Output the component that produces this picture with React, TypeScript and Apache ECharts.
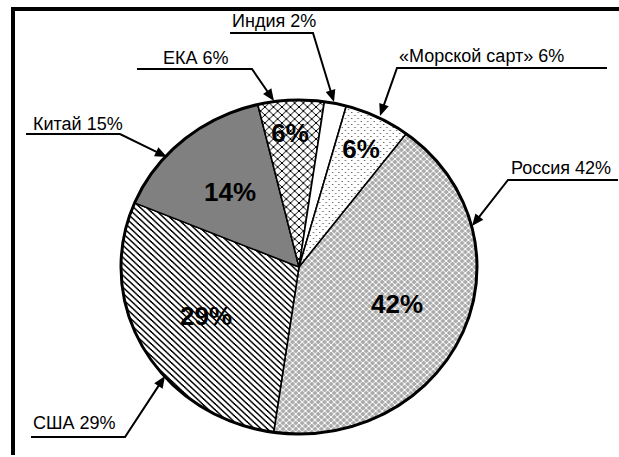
import React, { useEffect, useRef } from "react";
import * as echarts from "echarts";

const categories = ["Россия", "США", "Китай", "ЕКА", "Индия", "«Морской сарт»"];
const shares = [42, 29, 15, 6, 2, 6];
const insideLabels = ["42%", "29%", "14%", "6%", "", "6%"];

const CX = 299;
const CY = 267;
const RX = 178;
const RY = 167;
const START_DEG = 37; // clockwise from 12 o'clock
const FONT = "'Liberation Sans', Arial, sans-serif";

// annotation layout (label anchor, underline, arrow tip) per category
const outerLayout = [
  { tx: 511, ty: 168, p0: [618, 180], p1: [508, 180], tip: [472, 226] },
  { tx: 33, ty: 423, p0: [31, 437], p1: [125, 437], tip: [165, 376] },
  { tx: 33, ty: 124, p0: [26, 134], p1: [120, 134], tip: [167, 157] },
  { tx: 163, ty: 58, p0: [137, 69], p1: [252, 69], tip: [274, 101] },
  { tx: 232, ty: 21, p0: [230, 33], p1: [313, 33], tip: [334, 102] },
  { tx: 399, ty: 56, p0: [607, 68], p1: [397, 68], tip: [380, 116] },
];
const insideLayout = [
  [397, 304],
  [206, 316],
  [230, 192],
  [290, 133],
  [0, 0],
  [361, 149],
];

function tile(size: number, bg: string, fg: string, test: (x: number, y: number) => boolean) {
  const c = document.createElement("canvas");
  c.width = size;
  c.height = size;
  const ctx = c.getContext("2d")!;
  ctx.fillStyle = bg;
  ctx.fillRect(0, 0, size, size);
  ctx.fillStyle = fg;
  for (let y = 0; y < size; y++)
    for (let x = 0; x < size; x++) if (test(x, y)) ctx.fillRect(x, y, 1, 1);
  return { image: c, repeat: "repeat", imageWidth: size, imageHeight: size } as any;
}

export default function App() {
  const ref = useRef<HTMLDivElement>(null);
  useEffect(() => {
    if (!ref.current) return;
    const chart = echarts.init(ref.current, null, { renderer: "svg" });

    const fills = [
      tile(6, "#ababab", "#ffffff", (x, y) => x === y || x + y === 5),
      tile(6, "#ffffff", "#000000", (x, y) => (((x - y) % 6) + 6) % 6 < 2),
      "#808080",
      tile(8, "#ffffff", "#000000", (x, y) => x === y || x + y === 7),
      "#ffffff",
      tile(6, "#ffffff", "#333333", (x, y) => (x === 1 && y === 1) || (x === 4 && y === 4)),
    ];

    const total = shares.reduce((a, b) => a + b, 0);
    const cum: number[] = [];
    shares.reduce((acc, v, i) => {
      cum[i] = acc;
      return acc + v;
    }, 0);

    const graphics: any[] = [
      { type: "line", z: 100, shape: { x1: 11, y1: 9, x2: 619, y2: 9 }, style: { stroke: "#000", lineWidth: 4 } },
      { type: "line", z: 100, shape: { x1: 13, y1: 7, x2: 13, y2: 455 }, style: { stroke: "#000", lineWidth: 4 } },
      {
        type: "ellipse",
        z: 50,
        silent: true,
        shape: { cx: CX, cy: CY, rx: RX, ry: RY },
        style: { fill: "none", stroke: "#000", lineWidth: 3 },
      },
    ];

    categories.forEach((name, i) => {
      const L = outerLayout[i];
      const dx = L.tip[0] - L.p1[0];
      const dy = L.tip[1] - L.p1[1];
      const len = Math.hypot(dx, dy);
      const ux = dx / len;
      const uy = dy / len;
      const bx = L.tip[0] - ux * 12;
      const by = L.tip[1] - uy * 12;
      const nx = -uy * 5;
      const ny = ux * 5;
      graphics.push({
        type: "polyline",
        z: 100,
        shape: { points: [L.p0, L.p1, [bx + ux * 2, by + uy * 2]] },
        style: { stroke: "#000", lineWidth: 2, fill: null },
      });
      graphics.push({
        type: "polygon",
        z: 100,
        shape: { points: [L.tip, [bx + nx, by + ny], [bx - nx, by - ny]] },
        style: { fill: "#000" },
      });
      graphics.push({
        type: "text",
        z: 100,
        x: L.tx,
        y: L.ty,
        style: {
          text: `${name} ${shares[i]}%`,
          font: `18px ${FONT}`,
          fill: "#000",
          textAlign: "left",
          textVerticalAlign: "middle",
        },
      });
      if (insideLabels[i]) {
        graphics.push({
          type: "text",
          z: 100,
          x: insideLayout[i][0],
          y: insideLayout[i][1],
          style: {
            text: insideLabels[i],
            font: `bold 26px ${FONT}`,
            fill: "#000",
            textAlign: "center",
            textVerticalAlign: "middle",
          },
        });
      }
    });

    chart.setOption({
      animation: false,
      backgroundColor: "#ffffff",
      series: [
        {
          type: "custom",
          coordinateSystem: "none",
          silent: true,
          data: categories.map((name, i) => ({ name, value: [shares[i]] })),
          renderItem: (params: any, api: any) => {
            const i = params.dataIndex;
            const v = api.value(0);
            const a0 = ((START_DEG + (cum[i] / total) * 360 - 90) * Math.PI) / 180;
            const a1 = ((START_DEG + ((cum[i] + v) / total) * 360 - 90) * Math.PI) / 180;
            return {
              type: "sector",
              x: CX,
              y: CY,
              scaleX: RX / RY,
              shape: { cx: 0, cy: 0, r0: 0, r: RY, startAngle: a0, endAngle: a1, clockwise: true },
              style: { fill: fills[i], stroke: "#000", lineWidth: 1.5 },
            };
          },
        },
      ],
      graphic: graphics,
    });
    return () => chart.dispose();
  }, []);
  return (
    <div
      ref={ref}
      style={{ position: "fixed", left: 0, top: 0, width: 619, height: 457, background: "#fff" }}
    />
  );
}
